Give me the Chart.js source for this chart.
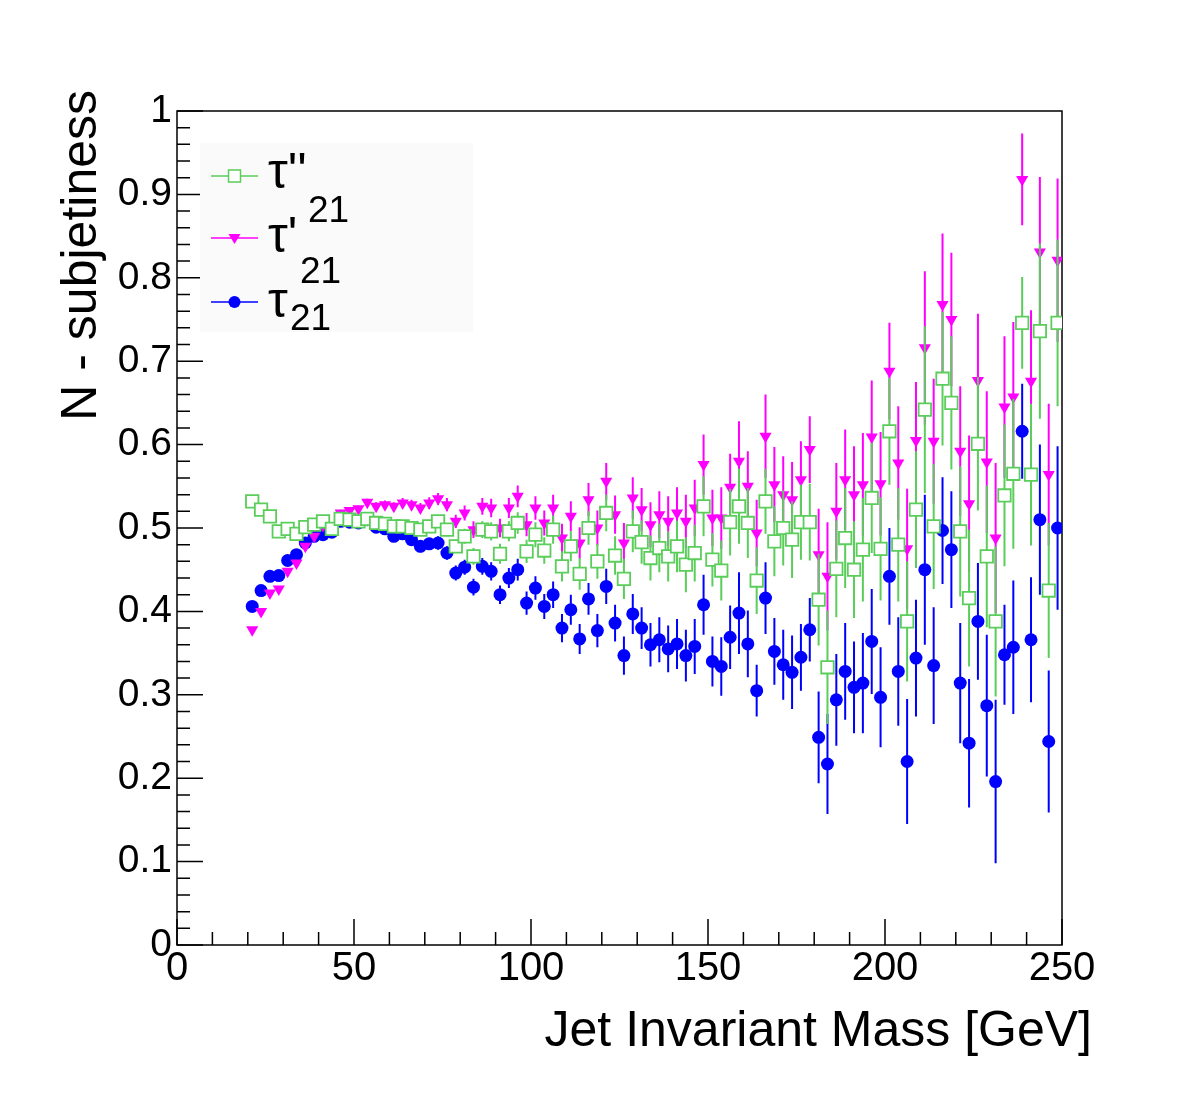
<!DOCTYPE html>
<html>
<head>
<meta charset="utf-8">
<title>N-subjettiness vs jet mass</title>
<script src="https://cdn.jsdelivr.net/npm/chart.js@4/dist/chart.umd.min.js"></script>
<style>
  html, body { margin: 0; padding: 0; background: #fff; }
  #wrap { width: 1182px; height: 1113px; }
</style>
</head>
<body>
<div id="wrap"><canvas id="chart" width="1182" height="1113"></canvas></div>
<script>
// bin centres of the jet mass histogram (GeV)
const massBins = [
  21.25, 23.75, 26.25, 28.75, 31.25, 33.75, 36.25, 38.75, 41.25, 43.75,
  46.25, 48.75, 51.25, 53.75, 56.25, 58.75, 61.25, 63.75, 66.25, 68.75,
  71.25, 73.75, 76.25, 78.75, 81.25, 83.75, 86.25, 88.75, 91.25, 93.75,
  96.25, 98.75, 101.25, 103.75, 106.25, 108.75, 111.25, 113.75, 116.25, 118.75,
  121.25, 123.75, 126.25, 128.75, 131.25, 133.75, 136.25, 138.75, 141.25, 143.75,
  146.25, 148.75, 151.25, 153.75, 156.25, 158.75, 161.25, 163.75, 166.25, 168.75,
  171.25, 173.75, 176.25, 178.75, 181.25, 183.75, 186.25, 188.75, 191.25, 193.75,
  196.25, 198.75, 201.25, 203.75, 206.25, 208.75, 211.25, 213.75, 216.25, 218.75,
  221.25, 223.75, 226.25, 228.75, 231.25, 233.75, 236.25, 238.75, 241.25, 243.75,
  246.25, 248.75
];

// tau'' (green open squares)
const tauPP = [
  0.532, 0.522, 0.514, 0.496, 0.499, 0.493, 0.501, 0.504, 0.508, 0.499,
  0.511, 0.510, 0.508, 0.511, 0.506, 0.505, 0.502, 0.502, 0.500, 0.498,
  0.502, 0.508, 0.498, 0.478, 0.490, 0.466, 0.498, 0.496, 0.469, 0.496,
  0.506, 0.472, 0.492, 0.473, 0.498, 0.454, 0.478, 0.445, 0.500, 0.460,
  0.518, 0.467, 0.439, 0.496, 0.483, 0.464, 0.476, 0.466, 0.478, 0.456,
  0.470, 0.526, 0.462, 0.449, 0.507, 0.526, 0.506, 0.437, 0.532, 0.484,
  0.500, 0.486, 0.507, 0.507, 0.414, 0.333, 0.451, 0.488, 0.450, 0.474,
  0.536, 0.475, 0.616, 0.480, 0.388, 0.522, 0.642, 0.502, 0.679, 0.650,
  0.496, 0.416, 0.601, 0.466, 0.388, 0.539, 0.565, 0.746, 0.564, 0.736,
  0.425, 0.746
];
const tauPPErr = [
  0.003, 0.003, 0.003, 0.003, 0.003, 0.003, 0.003, 0.003, 0.003, 0.003,
  0.004, 0.004, 0.004, 0.004, 0.005, 0.005, 0.005, 0.006, 0.006, 0.006,
  0.007, 0.007, 0.008, 0.008, 0.009, 0.010, 0.010, 0.011, 0.012, 0.012,
  0.013, 0.014, 0.015, 0.016, 0.017, 0.018, 0.018, 0.019, 0.020, 0.021,
  0.022, 0.023, 0.024, 0.025, 0.026, 0.027, 0.029, 0.030, 0.031, 0.033,
  0.034, 0.036, 0.032, 0.036, 0.040, 0.045, 0.042, 0.040, 0.039, 0.042,
  0.045, 0.046, 0.045, 0.046, 0.055, 0.068, 0.058, 0.060, 0.058, 0.062,
  0.066, 0.062, 0.064, 0.068, 0.072, 0.070, 0.100, 0.075, 0.080, 0.080,
  0.078, 0.082, 0.080, 0.085, 0.090, 0.085, 0.090, 0.055, 0.085, 0.105,
  0.081, 0.100
];

// tau'_21 (magenta down triangles)
const tauP21 = [
  0.378, 0.400, 0.422, 0.427, 0.448, 0.458, 0.478, 0.490, 0.503, 0.500,
  0.518, 0.521, 0.523, 0.531, 0.526, 0.528, 0.526, 0.530, 0.528, 0.524,
  0.530, 0.535, 0.528, 0.508, 0.518, 0.498, 0.526, 0.524, 0.500, 0.524,
  0.538, 0.504, 0.524, 0.506, 0.524, 0.488, 0.514, 0.482, 0.534, 0.500,
  0.556, 0.516, 0.482, 0.536, 0.522, 0.504, 0.516, 0.508, 0.518, 0.508,
  0.524, 0.576, 0.512, 0.512, 0.549, 0.580, 0.550, 0.494, 0.610, 0.552,
  0.540, 0.534, 0.558, 0.594, 0.468, 0.442, 0.520, 0.558, 0.540, 0.552,
  0.609, 0.553, 0.688, 0.578, 0.475, 0.605, 0.716, 0.604, 0.768, 0.750,
  0.592, 0.529, 0.677, 0.579, 0.488, 0.645, 0.657, 0.918, 0.676, 0.831,
  0.564, 0.821
];
const tauP21Err = [
  0.003, 0.003, 0.003, 0.003, 0.003, 0.003, 0.003, 0.003, 0.003, 0.003,
  0.004, 0.004, 0.004, 0.004, 0.005, 0.005, 0.005, 0.006, 0.006, 0.006,
  0.007, 0.007, 0.008, 0.008, 0.009, 0.010, 0.010, 0.011, 0.011, 0.012,
  0.013, 0.014, 0.014, 0.015, 0.016, 0.017, 0.018, 0.019, 0.020, 0.021,
  0.022, 0.023, 0.024, 0.025, 0.026, 0.027, 0.028, 0.030, 0.031, 0.032,
  0.034, 0.036, 0.034, 0.037, 0.040, 0.048, 0.042, 0.040, 0.050, 0.045,
  0.046, 0.045, 0.046, 0.040, 0.055, 0.065, 0.058, 0.060, 0.058, 0.062,
  0.068, 0.062, 0.058, 0.068, 0.072, 0.070, 0.092, 0.075, 0.085, 0.080,
  0.078, 0.082, 0.080, 0.085, 0.090, 0.085, 0.090, 0.055, 0.085, 0.090,
  0.085, 0.098
];

// tau_21 (blue full circles)
const tau21 = [
  0.406, 0.425, 0.442, 0.443, 0.461, 0.468, 0.482, 0.490, 0.492, 0.495,
  0.508, 0.507, 0.506, 0.510, 0.501, 0.499, 0.490, 0.493, 0.486, 0.478,
  0.481, 0.482, 0.470, 0.446, 0.453, 0.429, 0.454, 0.448, 0.420, 0.440,
  0.450, 0.410, 0.428, 0.406, 0.420, 0.380, 0.402, 0.367, 0.415, 0.377,
  0.430, 0.386, 0.347, 0.397, 0.380, 0.360, 0.366, 0.355, 0.361, 0.347,
  0.358, 0.408, 0.340, 0.334, 0.369, 0.398, 0.361, 0.305, 0.416, 0.352,
  0.336, 0.327, 0.345, 0.378, 0.249, 0.217, 0.294, 0.328, 0.309, 0.314,
  0.364, 0.297, 0.442, 0.328, 0.220, 0.344, 0.450, 0.335, 0.497, 0.474,
  0.314, 0.242, 0.388, 0.287, 0.196, 0.348, 0.357, 0.616, 0.366, 0.510,
  0.244, 0.500
];
const tau21Err = [
  0.004, 0.004, 0.004, 0.004, 0.004, 0.004, 0.004, 0.004, 0.004, 0.004,
  0.005, 0.005, 0.005, 0.005, 0.005, 0.006, 0.006, 0.006, 0.007, 0.007,
  0.007, 0.008, 0.008, 0.009, 0.009, 0.010, 0.010, 0.011, 0.011, 0.012,
  0.013, 0.014, 0.014, 0.015, 0.016, 0.017, 0.018, 0.018, 0.019, 0.020,
  0.021, 0.022, 0.023, 0.024, 0.025, 0.026, 0.027, 0.028, 0.030, 0.031,
  0.033, 0.036, 0.030, 0.035, 0.038, 0.049, 0.040, 0.031, 0.043, 0.040,
  0.042, 0.044, 0.040, 0.038, 0.055, 0.060, 0.055, 0.058, 0.055, 0.060,
  0.063, 0.060, 0.058, 0.065, 0.075, 0.070, 0.090, 0.070, 0.064, 0.070,
  0.072, 0.077, 0.070, 0.085, 0.098, 0.060, 0.080, 0.057, 0.075, 0.090,
  0.085, 0.098
];

const xTickLabels = ['0', '50', '100', '150', '200', '250'];
const yTickLabels = ['0', '0.1', '0.2', '0.3', '0.4', '0.5', '0.6', '0.7', '0.8', '0.9', '1'];
const xTitle = 'Jet Invariant Mass [GeV]';
const yTitle = 'N - subjetiness';

const FONT = '"Liberation Sans", Arial, Helvetica, sans-serif';
const GREEN = '#5acd5a';
const MAGENTA = '#ff00ff';
const BLUE = '#0000ff';

function toPoints(values) {
  return values.map((v, i) => ({ x: massBins[i], y: v }));
}

// vertical error bars, drawn just before each dataset so markers sit on top
const errorBars = {
  id: 'errorBars',
  beforeDatasetDraw(chart, args) {
    const ds = chart.data.datasets[args.index];
    if (!ds.errors) return;
    const { ctx, chartArea: a } = chart;
    const yScale = chart.scales.y;
    ctx.save();
    ctx.beginPath();
    ctx.rect(a.left, a.top, a.right - a.left, a.bottom - a.top);
    ctx.clip();
    ctx.strokeStyle = ds.borderColor;
    ctx.lineWidth = 2;
    ctx.beginPath();
    args.meta.data.forEach((pt, i) => {
      const v = ds.data[i].y;
      const e = ds.errors[i];
      ctx.moveTo(pt.x, yScale.getPixelForValue(v + e));
      ctx.lineTo(pt.x, yScale.getPixelForValue(v - e));
    });
    ctx.stroke();
    ctx.restore();
  }
};

// ROOT style frame with ticks pointing inwards, plus axis titles
const rootFrame = {
  id: 'rootFrame',
  beforeDatasetsDraw(chart) {
    const { ctx, chartArea: a, scales: { x, y } } = chart;
    ctx.save();
    ctx.strokeStyle = '#000';
    ctx.lineWidth = 1.5;
    ctx.strokeRect(a.left, a.top, a.right - a.left, a.bottom - a.top);
    ctx.beginPath();
    for (let v = 0; v <= 250; v += 10) {
      const px = x.getPixelForValue(v);
      const len = v % 50 === 0 ? 26 : 13;
      ctx.moveTo(px, a.bottom);
      ctx.lineTo(px, a.bottom - len);
    }
    for (let k = 0; k <= 50; k++) {
      const py = y.getPixelForValue(k * 0.02);
      const len = k % 5 === 0 ? 26 : 13;
      ctx.moveTo(a.left, py);
      ctx.lineTo(a.left + len, py);
    }
    ctx.stroke();

    ctx.fillStyle = '#000';
    ctx.font = '50px ' + FONT;
    ctx.textAlign = 'right';
    ctx.textBaseline = 'alphabetic';
    ctx.fillText(xTitle, 1092, 1046);

    ctx.translate(96, 90);
    ctx.rotate(-Math.PI / 2);
    ctx.fillText(yTitle, 0, 0);
    ctx.restore();
  }
};

function drawMarker(ctx, style, cx, cy, color) {
  ctx.save();
  if (style === 'rect') {
    ctx.fillStyle = '#fff';
    ctx.strokeStyle = color;
    ctx.lineWidth = 1.5;
    ctx.fillRect(cx - 6, cy - 6, 12, 12);
    ctx.strokeRect(cx - 6, cy - 6, 12, 12);
  } else if (style === 'triangle') {
    ctx.fillStyle = color;
    ctx.beginPath();
    ctx.moveTo(cx - 6, cy - 4);
    ctx.lineTo(cx + 6, cy - 4);
    ctx.lineTo(cx, cy + 6);
    ctx.closePath();
    ctx.fill();
  } else {
    ctx.fillStyle = color;
    ctx.beginPath();
    ctx.arc(cx, cy, 6, 0, Math.PI * 2);
    ctx.fill();
  }
  ctx.restore();
}

// legend box in the top-left corner of the frame
const rootLegend = {
  id: 'rootLegend',
  afterDraw(chart) {
    const { ctx } = chart;
    const rows = [
      { color: GREEN, style: 'rect', y: 176, main: "\u03c4''", mainX: 268, mainY: 188, sub: '21', subX: 308, subY: 222 },
      { color: MAGENTA, style: 'triangle', y: 238, main: "\u03c4'", mainX: 268, mainY: 252, sub: '21', subX: 300, subY: 283 },
      { color: BLUE, style: 'circle', y: 302, main: '\u03c4', mainX: 268, mainY: 317, sub: '21', subX: 290, subY: 330 }
    ];
    ctx.save();
    ctx.fillStyle = '#fafafa';
    ctx.fillRect(200, 143, 273, 189);
    rows.forEach(r => {
      ctx.strokeStyle = r.color;
      ctx.lineWidth = 1.5;
      ctx.beginPath();
      ctx.moveTo(211, r.y);
      ctx.lineTo(258, r.y);
      ctx.stroke();
      drawMarker(ctx, r.style, 234.5, r.y, r.color);
      ctx.fillStyle = '#000';
      ctx.textAlign = 'left';
      ctx.textBaseline = 'alphabetic';
      ctx.font = '50px ' + FONT;
      ctx.fillText(r.main, r.mainX, r.mainY);
      ctx.font = '37px ' + FONT;
      ctx.fillText(r.sub, r.subX, r.subY);
    });
    ctx.restore();
  }
};

new Chart(document.getElementById('chart'), {
  type: 'scatter',
  data: {
    datasets: [
      {
        label: "\u03c4''",
        data: toPoints(tauPP),
        errors: tauPPErr,
        showLine: false,
        pointStyle: 'rect',
        pointRadius: 8.8,
        pointBorderWidth: 1.8,
        borderColor: GREEN,
        backgroundColor: '#fff',
        pointBackgroundColor: '#fff'
      },
      {
        label: "\u03c4'21",
        data: toPoints(tauP21),
        errors: tauP21Err,
        showLine: false,
        pointStyle: 'triangle',
        rotation: 180,
        pointRadius: 7,
        pointBorderWidth: 0,
        borderColor: MAGENTA,
        backgroundColor: MAGENTA,
        pointBackgroundColor: MAGENTA
      },
      {
        label: '\u03c421',
        data: toPoints(tau21),
        errors: tau21Err,
        showLine: false,
        pointStyle: 'circle',
        pointRadius: 6.5,
        pointBorderWidth: 0,
        borderColor: BLUE,
        backgroundColor: BLUE,
        pointBackgroundColor: BLUE
      }
    ]
  },
  options: {
    responsive: false,
    animation: false,
    devicePixelRatio: 1,
    layout: { padding: { left: 0, right: 120, top: 111, bottom: 0 } },
    plugins: {
      legend: { display: false },
      tooltip: { enabled: false }
    },
    scales: {
      x: {
        type: 'linear',
        min: 0,
        max: 250,
        grid: { display: false, drawTicks: false },
        border: { display: false },
        afterFit(scale) { scale.height = 168; },
        ticks: {
          stepSize: 50,
          autoSkip: false,
          maxRotation: 0,
          padding: 0,
          color: '#000',
          font: { family: FONT, size: 40 },
          callback: v => xTickLabels[Math.round(v / 50)]
        }
      },
      y: {
        type: 'linear',
        min: 0,
        max: 1,
        grid: { display: false, drawTicks: false },
        border: { display: false },
        afterFit(scale) { scale.width = 177; },
        ticks: {
          stepSize: 0.1,
          autoSkip: false,
          padding: 5,
          color: '#000',
          font: { family: FONT, size: 39 },
          callback: v => yTickLabels[Math.round(v * 10)]
        }
      }
    }
  },
  plugins: [errorBars, rootFrame, rootLegend]
});
</script>
</body>
</html>
